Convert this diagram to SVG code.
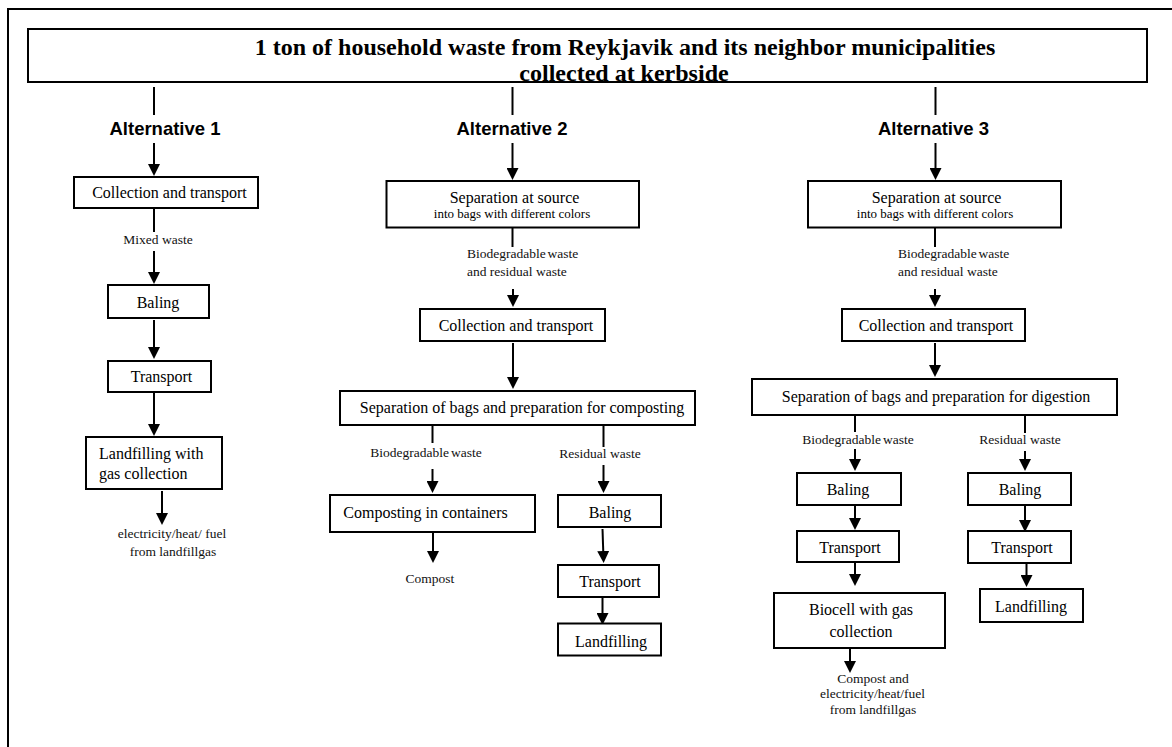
<svg xmlns="http://www.w3.org/2000/svg" width="1172" height="747" viewBox="0 0 1172 747">
<style>
.box{fill:#fff;stroke:#000;stroke-width:2}
.ln{fill:none;stroke:#000;stroke-width:2}
.ar{fill:none;stroke:#000;stroke-width:2;marker-end:url(#ah)}
.t16{font-family:"Liberation Serif","Times New Roman",serif;font-size:16px;fill:#000;text-anchor:middle}
.t13{font-family:"Liberation Serif","Times New Roman",serif;font-size:13px;fill:#000;text-anchor:middle}
.lb{font-family:"Liberation Serif","Times New Roman",serif;font-size:13.5px;fill:#111;text-anchor:middle}
.alt{font-family:"Liberation Sans",Arial,sans-serif;font-size:18.5px;font-weight:bold;fill:#000;text-anchor:middle}
.title{font-family:"Liberation Serif","Times New Roman",serif;font-size:24px;font-weight:bold;fill:#000;text-anchor:middle}
</style>
<defs>
<marker id="ah" viewBox="0 0 12 12" refX="2" refY="6" markerWidth="12" markerHeight="12" markerUnits="userSpaceOnUse" orient="auto">
<path d="M0,0 L12,6 L0,12 z" fill="#000"/>
</marker>
</defs>
<rect x="0" y="0" width="1172" height="747" fill="#fff"/>
<rect x="8" y="9" width="1190" height="770" fill="none" stroke="#000" stroke-width="2"/>

<g id="title">
<rect class="box" x="28" y="29" width="1119" height="53"/>
<text class="title" x="625" y="55">1 ton of household waste from Reykjavik and its neighbor municipalities</text>
<text class="title" x="624" y="81">collected at kerbside</text>
</g>

<g id="connectors">
<!-- Alternative 1 -->
<line class="ln" x1="154" y1="87" x2="154" y2="115"/>
<line class="ar" x1="154" y1="143" x2="154" y2="166"/>
<line class="ln" x1="154" y1="209" x2="154" y2="232"/>
<line class="ar" x1="154" y1="251" x2="154" y2="274"/>
<line class="ar" x1="154" y1="320" x2="154" y2="349"/>
<line class="ar" x1="154" y1="393" x2="154" y2="426"/>
<line class="ar" x1="162" y1="491" x2="162" y2="515"/>
<!-- Alternative 2 -->
<line class="ln" x1="512.5" y1="87" x2="512.5" y2="115"/>
<line class="ar" x1="512.5" y1="143" x2="512.5" y2="170"/>
<line class="ln" x1="512.5" y1="228" x2="512.5" y2="247"/>
<line class="ar" x1="513" y1="289" x2="513" y2="297"/>
<line class="ar" x1="513" y1="343" x2="513" y2="379"/>
<line class="ln" x1="432.5" y1="426" x2="432.5" y2="443"/>
<line class="ar" x1="432.5" y1="469" x2="432.5" y2="483"/>
<line class="ln" x1="603.5" y1="426" x2="603.5" y2="447"/>
<line class="ar" x1="603.5" y1="465" x2="603.5" y2="483"/>
<line class="ar" x1="433" y1="533" x2="433" y2="553"/>
<line class="ar" x1="602.5" y1="529" x2="603.3" y2="553"/>
<line class="ar" x1="602.5" y1="598" x2="602.5" y2="615"/>
<!-- Alternative 3 -->
<line class="ln" x1="935.5" y1="87" x2="935.5" y2="115"/>
<line class="ar" x1="935.5" y1="143" x2="935.5" y2="170"/>
<line class="ln" x1="935" y1="228" x2="935" y2="247"/>
<line class="ar" x1="935" y1="289" x2="935" y2="297"/>
<line class="ar" x1="935" y1="343" x2="935" y2="367"/>
<line class="ln" x1="855" y1="415" x2="855" y2="432"/>
<line class="ar" x1="855" y1="449" x2="855" y2="461"/>
<line class="ln" x1="1025" y1="415" x2="1025" y2="433"/>
<line class="ar" x1="1025" y1="451" x2="1025" y2="461"/>
<line class="ar" x1="855" y1="506" x2="855" y2="520"/>
<line class="ar" x1="855" y1="563" x2="855" y2="576"/>
<line class="ar" x1="850" y1="649" x2="850" y2="663"/>
<line class="ar" x1="1025" y1="503" x2="1025" y2="522"/>
<line class="ar" x1="1026.5" y1="564" x2="1026.5" y2="577"/>
</g>

<g id="labels">
<text class="alt" x="165" y="135">Alternative 1</text>
<text class="alt" x="512" y="135">Alternative 2</text>
<text class="alt" x="933.5" y="135">Alternative 3</text>
<text class="lb" x="158" y="244">Mixed waste</text>
<text class="lb" x="172" y="538">electricity/heat/ fuel</text>
<text class="lb" x="173" y="556">from landfillgas</text>
<text class="lb" x="467" y="258" text-anchor="start" style="text-anchor:start" word-spacing="-1.5">Biodegradable waste</text>
<text class="lb" x="467" y="276" style="text-anchor:start">and residual waste</text>
<text class="lb" x="426" y="457" word-spacing="-1.5">Biodegradable waste</text>
<text class="lb" x="600" y="458">Residual waste</text>
<text class="lb" x="430" y="583">Compost</text>
<text class="lb" x="898" y="258" style="text-anchor:start" word-spacing="-1.5">Biodegradable waste</text>
<text class="lb" x="898" y="276" style="text-anchor:start">and residual waste</text>
<text class="lb" x="858" y="444" word-spacing="-1.5">Biodegradable waste</text>
<text class="lb" x="1020" y="444">Residual waste</text>
<text class="lb" x="873" y="683">Compost and</text>
<text class="lb" x="872.5" y="698">electricity/heat/fuel</text>
<text class="lb" x="873" y="714">from landfillgas</text>
</g>

<g id="a1-collection"><rect class="box" x="74" y="177" width="184" height="31"/><text class="t16" x="169.5" y="198">Collection and transport</text></g>
<g id="a1-baling"><rect class="box" x="108" y="285" width="101" height="33"/><text class="t16" x="158" y="308">Baling</text></g>
<g id="a1-transport"><rect class="box" x="108" y="361" width="103" height="31"/><text class="t16" x="161.5" y="382">Transport</text></g>
<g id="a1-landfilling"><rect class="box" x="86" y="437" width="136" height="52"/><text class="t16" x="99" y="459" style="text-anchor:start">Landfilling with</text><text class="t16" x="99" y="479" style="text-anchor:start">gas collection</text></g>

<g id="a2-separation"><rect class="box" x="386.5" y="181" width="252.5" height="46.5"/><text class="t16" x="514.5" y="203">Separation at source</text><text class="t13" x="512" y="218">into bags with different colors</text></g>
<g id="a2-collection"><rect class="box" x="420" y="309" width="185" height="32"/><text class="t16" x="516" y="331">Collection and transport</text></g>
<g id="a2-prep"><rect class="box" x="340" y="391" width="355" height="34"/><text class="t16" x="522" y="413">Separation of bags and preparation for composting</text></g>
<g id="a2-composting"><rect class="box" x="330" y="495" width="205" height="37"/><text class="t16" x="425.5" y="518">Composting in containers</text></g>
<g id="a2-baling"><rect class="box" x="558" y="495" width="103" height="32"/><text class="t16" x="610" y="518">Baling</text></g>
<g id="a2-transport"><rect class="box" x="558" y="565" width="101" height="32"/><text class="t16" x="610" y="587">Transport</text></g>
<g id="a2-landfilling"><rect class="box" x="558" y="623.5" width="103" height="32"/><text class="t16" x="611" y="647">Landfilling</text></g>

<g id="a3-separation"><rect class="box" x="808" y="181" width="253" height="46.5"/><text class="t16" x="936.5" y="203">Separation at source</text><text class="t13" x="935" y="218">into bags with different colors</text></g>
<g id="a3-collection"><rect class="box" x="842" y="309" width="183" height="32"/><text class="t16" x="936" y="331">Collection and transport</text></g>
<g id="a3-prep"><rect class="box" x="752" y="379" width="365" height="36"/><text class="t16" x="936" y="402">Separation of bags and preparation for digestion</text></g>
<g id="a3-baling-bio"><rect class="box" x="797" y="473" width="104" height="32"/><text class="t16" x="848" y="495">Baling</text></g>
<g id="a3-baling-res"><rect class="box" x="968" y="473" width="103" height="32"/><text class="t16" x="1020" y="495">Baling</text></g>
<g id="a3-transport-bio"><rect class="box" x="797" y="531" width="102" height="31"/><text class="t16" x="850" y="553">Transport</text></g>
<g id="a3-transport-res"><rect class="box" x="968" y="531" width="103" height="32"/><text class="t16" x="1022" y="553">Transport</text></g>
<g id="a3-biocell"><rect class="box" x="774" y="593" width="171" height="55"/><text class="t16" x="861" y="615">Biocell with gas</text><text class="t16" x="861" y="637">collection</text></g>
<g id="a3-landfilling"><rect class="box" x="980" y="589" width="103" height="33"/><text class="t16" x="1031" y="612">Landfilling</text></g>
</svg>
